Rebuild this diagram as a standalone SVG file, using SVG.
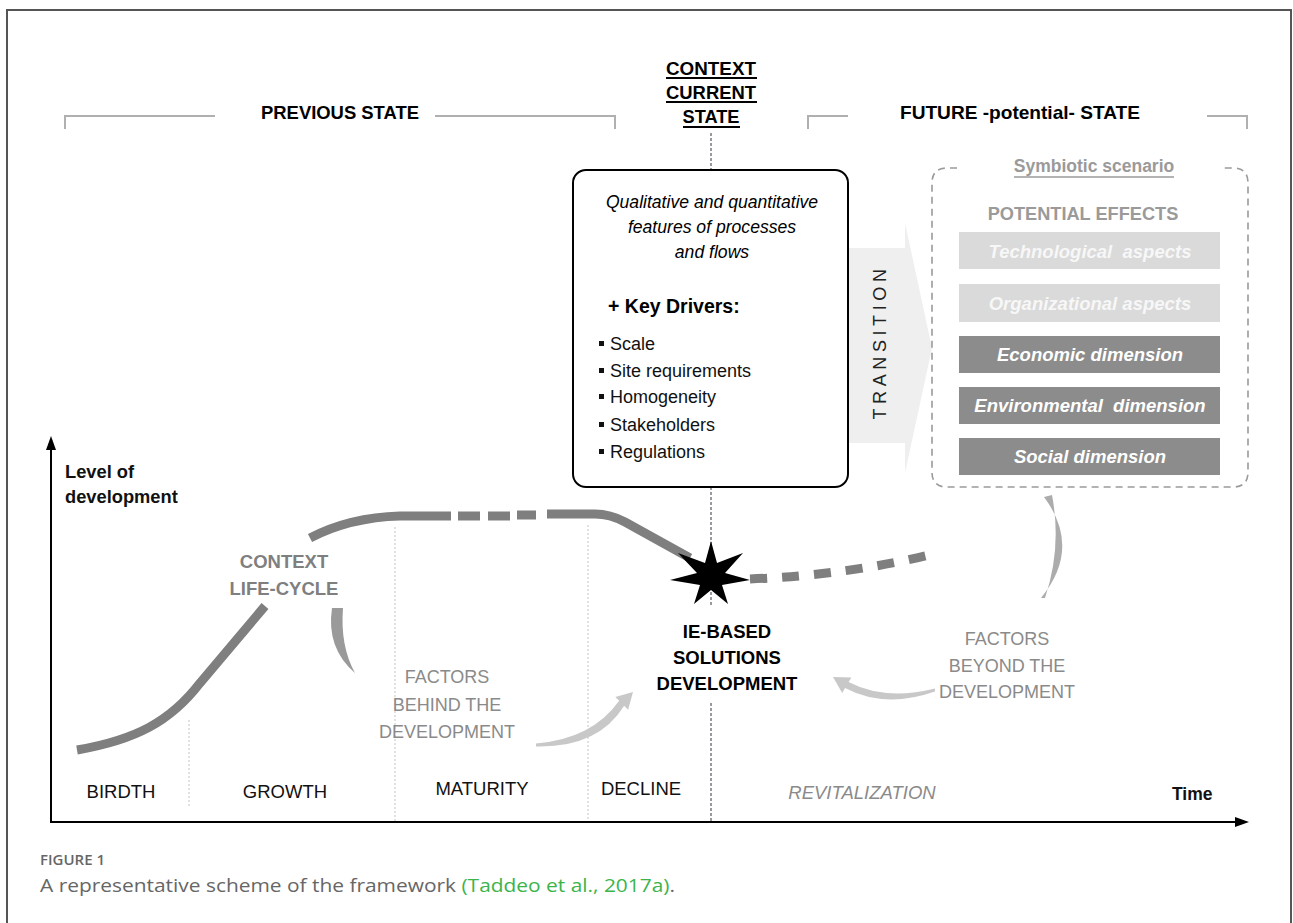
<svg xmlns="http://www.w3.org/2000/svg" width="1293" height="923" viewBox="0 0 1293 923">
  <defs>
    <style>
      text { font-family: "Liberation Sans", Arial, sans-serif; }
      .b { font-weight: bold; }
      .it { font-style: italic; }
      .mid { text-anchor: middle; }
      .bracket { fill: none; stroke: #b0b0b0; stroke-width: 2; }
      .life { fill: none; stroke: #7f7f7f; stroke-width: 9; }
      .phase { font-size: 18.5px; fill: #111; text-anchor: middle; }
      .revital { fill: #8a8a8a; font-style: italic; }
      .factor { font-size: 18px; fill: #8a8a8a; text-anchor: middle; }
      .guide { stroke: #c4c4c4; stroke-width: 1; stroke-dasharray: 2 2; }
      .axis { stroke: #000; stroke-width: 2; fill: none; }
      .bar-light { fill: #dadada; }
      .bar-dark { fill: #8c8c8c; }
      .bartext { font-size: 18.5px; font-weight: bold; font-style: italic; text-anchor: middle; white-space: pre; }
      .cap { font-family: "Open Sans", "Liberation Sans", sans-serif; fill: #666; }
    </style>
  </defs>

  <rect width="1293" height="923" fill="#ffffff"/>
  <!-- outer frame -->
  <path d="M7 923 V10 H1291 V923" fill="none" stroke="#555" stroke-width="2"/>

  <!-- header brackets -->
  <g id="header">
    <path class="bracket" d="M65 129 V116 H215"/>
    <path class="bracket" d="M435 116 H615 V129"/>
    <path class="bracket" d="M808 129 V116 H848"/>
    <path class="bracket" d="M1207 116 H1247 V129"/>
    <text class="b mid" x="340" y="119" font-size="19" textLength="158" lengthAdjust="spacingAndGlyphs">PREVIOUS STATE</text>
    <text class="b mid" x="1020" y="119" font-size="19" textLength="240" lengthAdjust="spacingAndGlyphs">FUTURE -potential- STATE</text>
  </g>

  <g id="current-state-title">
    <text class="b mid" x="711" y="75" font-size="19" textLength="90" lengthAdjust="spacingAndGlyphs">CONTEXT</text>
    <line x1="666" y1="78" x2="757" y2="78" stroke="#000" stroke-width="2"/>
    <text class="b mid" x="711" y="99" font-size="19" textLength="90" lengthAdjust="spacingAndGlyphs">CURRENT</text>
    <line x1="666" y1="102" x2="757" y2="102" stroke="#000" stroke-width="2"/>
    <text class="b mid" x="711" y="123" font-size="19" textLength="57" lengthAdjust="spacingAndGlyphs">STATE</text>
    <line x1="683" y1="127" x2="740" y2="127" stroke="#000" stroke-width="2"/>
  </g>

  <!-- present-time marker line -->
  <g id="present-line" stroke="#334" stroke-width="1" stroke-dasharray="3 2">
    <line x1="711" y1="133" x2="711" y2="170"/>
    <line x1="711" y1="487" x2="711" y2="607"/>
    <line x1="711" y1="703" x2="711" y2="821"/>
  </g>

  <!-- phase guides -->
  <g id="guides">
    <line class="guide" x1="189" y1="720" x2="189" y2="808"/>
    <line class="guide" x1="395" y1="527" x2="395" y2="821"/>
    <line class="guide" x1="588" y1="525" x2="588" y2="821"/>
  </g>

  <!-- transition arrow -->
  <g id="transition">
    <polygon points="848,248 905,248 905,223 932,348 905,473 905,443 848,443" fill="#efefef"/>
    <text transform="translate(886,342) rotate(-90)" class="mid" font-size="18" letter-spacing="4.6" fill="#222">TRANSITION</text>
  </g>

  <!-- current state box -->
  <g id="current-state">
    <rect x="573" y="170" width="275" height="317" rx="13" fill="#fff" stroke="#000" stroke-width="2"/>
    <text class="it mid" x="712" y="208" font-size="17.6">Qualitative and quantitative</text>
    <text class="it mid" x="712" y="233" font-size="17.6">features of processes</text>
    <text class="it mid" x="712" y="258" font-size="17.6">and flows</text>
    <text class="b" x="608" y="313" font-size="19.5">+ Key Drivers:</text>
    <g fill="#111">
      <rect x="599" y="341" width="5" height="5"/>
      <rect x="599" y="368" width="5" height="5"/>
      <rect x="599" y="394" width="5" height="5"/>
      <rect x="599" y="422" width="5" height="5"/>
      <rect x="599" y="449" width="5" height="5"/>
    </g>
    <g font-size="18" fill="#111">
      <text x="610" y="350">Scale</text>
      <text x="610" y="377">Site requirements</text>
      <text x="610" y="403">Homogeneity</text>
      <text x="610" y="431">Stakeholders</text>
      <text x="610" y="458">Regulations</text>
    </g>
  </g>

  <!-- symbiotic scenario -->
  <g id="symbiotic-scenario">
    <path d="M957 168 H947 Q932 168 932 183 V472 Q932 487 947 487 H1233 Q1248 487 1248 472 V183 Q1248 168 1233 168 H1223" fill="none" stroke="#9a9a9a" stroke-width="1.6" stroke-dasharray="7 5"/>
    <text class="b mid" x="1094" y="172" font-size="17.5" fill="#9a9a9a">Symbiotic scenario</text>
    <line x1="1014" y1="177" x2="1174" y2="177" stroke="#9a9a9a" stroke-width="1.6"/>
    <text class="b mid" x="1083" y="220" font-size="18.2" fill="#9a9a9a">POTENTIAL EFFECTS</text>
    <rect class="bar-light" x="959" y="232" width="261" height="37"/>
    <text class="bartext" x="1090" y="258" fill="#f7f7f7">Technological  aspects</text>
    <rect class="bar-light" x="959" y="284" width="261" height="38"/>
    <text class="bartext" x="1090" y="310" fill="#f7f7f7">Organizational aspects</text>
    <rect class="bar-dark" x="959" y="336" width="261" height="37"/>
    <text class="bartext" x="1090" y="361" fill="#fff">Economic dimension</text>
    <rect class="bar-dark" x="959" y="387" width="261" height="37"/>
    <text class="bartext" x="1090" y="412" fill="#fff">Environmental  dimension</text>
    <rect class="bar-dark" x="959" y="438" width="261" height="37"/>
    <text class="bartext" x="1090" y="463" fill="#fff">Social dimension</text>
  </g>

  <!-- axes -->
  <g id="axes">
    <line class="axis" x1="51" y1="448" x2="51" y2="823"/>
    <line class="axis" x1="50" y1="822" x2="1237" y2="822"/>
    <polygon points="51,436 46,450 56,450" fill="#000"/>
    <polygon points="1249,822 1235,817 1235,827" fill="#000"/>
    <text class="b" x="65" y="478" font-size="18.3" fill="#111">Level of</text>
    <text class="b" x="65" y="503" font-size="18.3" fill="#111">development</text>
    <text class="b" x="1172" y="800" font-size="17.5" fill="#111">Time</text>
  </g>

  <!-- context life-cycle curve -->
  <g id="life-cycle">
    <path class="life" d="M77 750 C135 740 170 722 200 683 L265 606"/>
    <path class="life" d="M310 538 C335 525 362 517 400 516 L451 516"/>
    <path class="life" d="M458 516 H480 M488 516 H510 M517 515 H536"/>
    <path class="life" d="M547 514 L595 514 Q610 514 625 522 L690 558"/>
    <path class="life" d="M750 579 Q850 575 937 553" stroke-width="7" stroke-dasharray="17 15"/>
    <text class="b mid" x="284" y="568" font-size="18.5" fill="#7f7f7f">CONTEXT</text>
    <text class="b mid" x="284" y="595" font-size="18.5" fill="#7f7f7f">LIFE-CYCLE</text>
  </g>

  <!-- IE-based solutions -->
  <g id="ie-solutions">
    <polygon points="711,541 717,563 743,553 725,573 750,580 722,585 728,604 711,590 694,604 700,585 670,580 697,573 678,553 705,563" fill="#000"/>
    <text class="b mid" x="727" y="638" font-size="18.5" fill="#000">IE-BASED</text>
    <text class="b mid" x="727" y="664" font-size="18.5" fill="#000">SOLUTIONS</text>
    <text class="b mid" x="727" y="690" font-size="18.5" fill="#000">DEVELOPMENT</text>
  </g>

  <!-- factors behind the development -->
  <g id="factors-behind">
    <path d="M332 608 Q326 648 355 673 Q340 646 343 608 Z" fill="#9a9a9a"/>
    <text class="factor" x="447" y="683">FACTORS</text>
    <text class="factor" x="447" y="711">BEHIND THE</text>
    <text class="factor" x="447" y="738">DEVELOPMENT</text>
  </g>

  <!-- factors beyond the development -->
  <g id="factors-beyond">
    <path d="M1044 497 Q1082 548 1041 598 L1045 598 Q1062 548 1052 495 Z" fill="#acacac"/>
    <text class="factor" x="1007" y="645">FACTORS</text>
    <text class="factor" x="1007" y="672">BEYOND THE</text>
    <text class="factor" x="1007" y="698">DEVELOPMENT</text>
  </g>

  <!-- influence arrows -->
  <g id="connectors" fill="#c8c8c8">
    <path d="M536 743.5 Q592 739 619.2 700.8 L615.3 696.9 L633 692 L628.1 709.7 L624.2 705.8 Q598 748 536 746.5 Z"/>
    <path d="M935 688.5 Q885 701 848.6 682.1 L851.4 677.4 L833 677 L842.2 692.9 L845 688.1 Q885 709 935 691.5 Z"/>
  </g>

  <!-- phases -->
  <g id="phases">
    <text class="phase" x="121" y="798">BIRDTH</text>
    <text class="phase" x="285" y="798">GROWTH</text>
    <text class="phase" x="482" y="795">MATURITY</text>
    <text class="phase" x="641" y="795">DECLINE</text>
    <text class="phase revital" x="862" y="799">REVITALIZATION</text>
  </g>

  <!-- caption -->
  <g id="caption">
    <text class="cap" x="40" y="865" font-size="13.5" font-weight="600" textLength="65" lengthAdjust="spacingAndGlyphs">FIGURE 1</text>
    <text class="cap" x="40" y="892" font-size="19" textLength="635" lengthAdjust="spacingAndGlyphs">A representative scheme of the framework <tspan fill="#3cb44a">(Taddeo et al., 2017a)</tspan>.</text>
  </g>
</svg>
